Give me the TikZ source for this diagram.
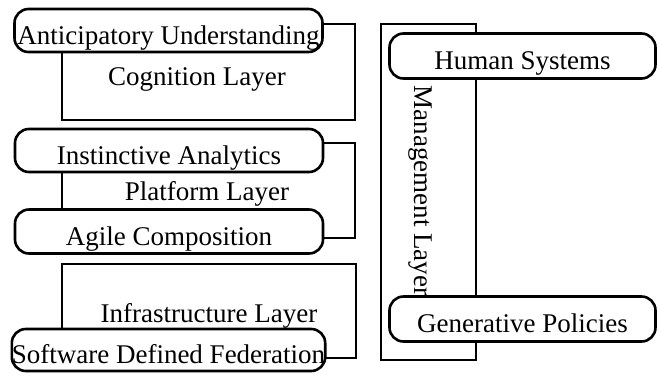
\documentclass[tikz,border=0pt]{standalone}
\usepackage{fontspec}
\setmainfont{Liberation Serif}

\begin{document}
\begin{tikzpicture}[x=1bp,y=-1bp,
    layerbox/.style={draw, line width=1.4bp, inner sep=0pt},
    item/.style={draw, line width=2.6bp, rounded corners=14bp, fill=white,
        inner sep=0pt, minimum width=308bp, minimum height=43bp,
        text height=27bp, text depth=0pt,
        font=\fontsize{27bp}{30bp}\selectfont},
    layerlabel/.style={inner sep=0pt, font=\fontsize{27bp}{30bp}\selectfont}]
            \useasboundingbox (0,0) rectangle (661,373);

            % layer frames
            \node[layerbox, minimum width=293bp, minimum height=96bp] (cogbox) at (208.5,72) {};
            \node[layerbox, minimum width=293bp, minimum height=95bp] (platbox) at (208.5,190.5) {};
            \node[layerbox, minimum width=294bp, minimum height=94bp] (infrabox) at (209,311) {};
            \node[layerbox, minimum width=95bp, minimum height=336bp] (mgmtbox) at (428.5,192) {};

            \node[layerlabel] (coglabel) at (197,79) {Cognition Layer};
            \node[layerlabel] (platlabel) at (207,194) {Platform Layer};
            \node[layerlabel] (infralabel) at (209,316) {Infrastructure Layer};
            \node[layerlabel, rotate=-90] (mgmtlabel) at (420,191) {Management Layer};

            % components
            \node[item] (antic) at (168.5,30.5) {Anticipatory Understanding};
            \node[item] (instinct) at (169,150.5) {Instinctive Analytics};
            \node[item, minimum height=44bp] (agile) at (169,231.5) {Agile Composition};
            \node[item, minimum height=42bp] (sdf) at (168.5,350) {Software Defined Federation};
            \node[item, minimum width=266bp, minimum height=45bp] (human) at (522.5,56) {Human Systems};
            \node[item, minimum width=266bp, minimum height=45bp] (genpol) at (522.5,319) {Generative Policies};
\end{tikzpicture}
\end{document}
